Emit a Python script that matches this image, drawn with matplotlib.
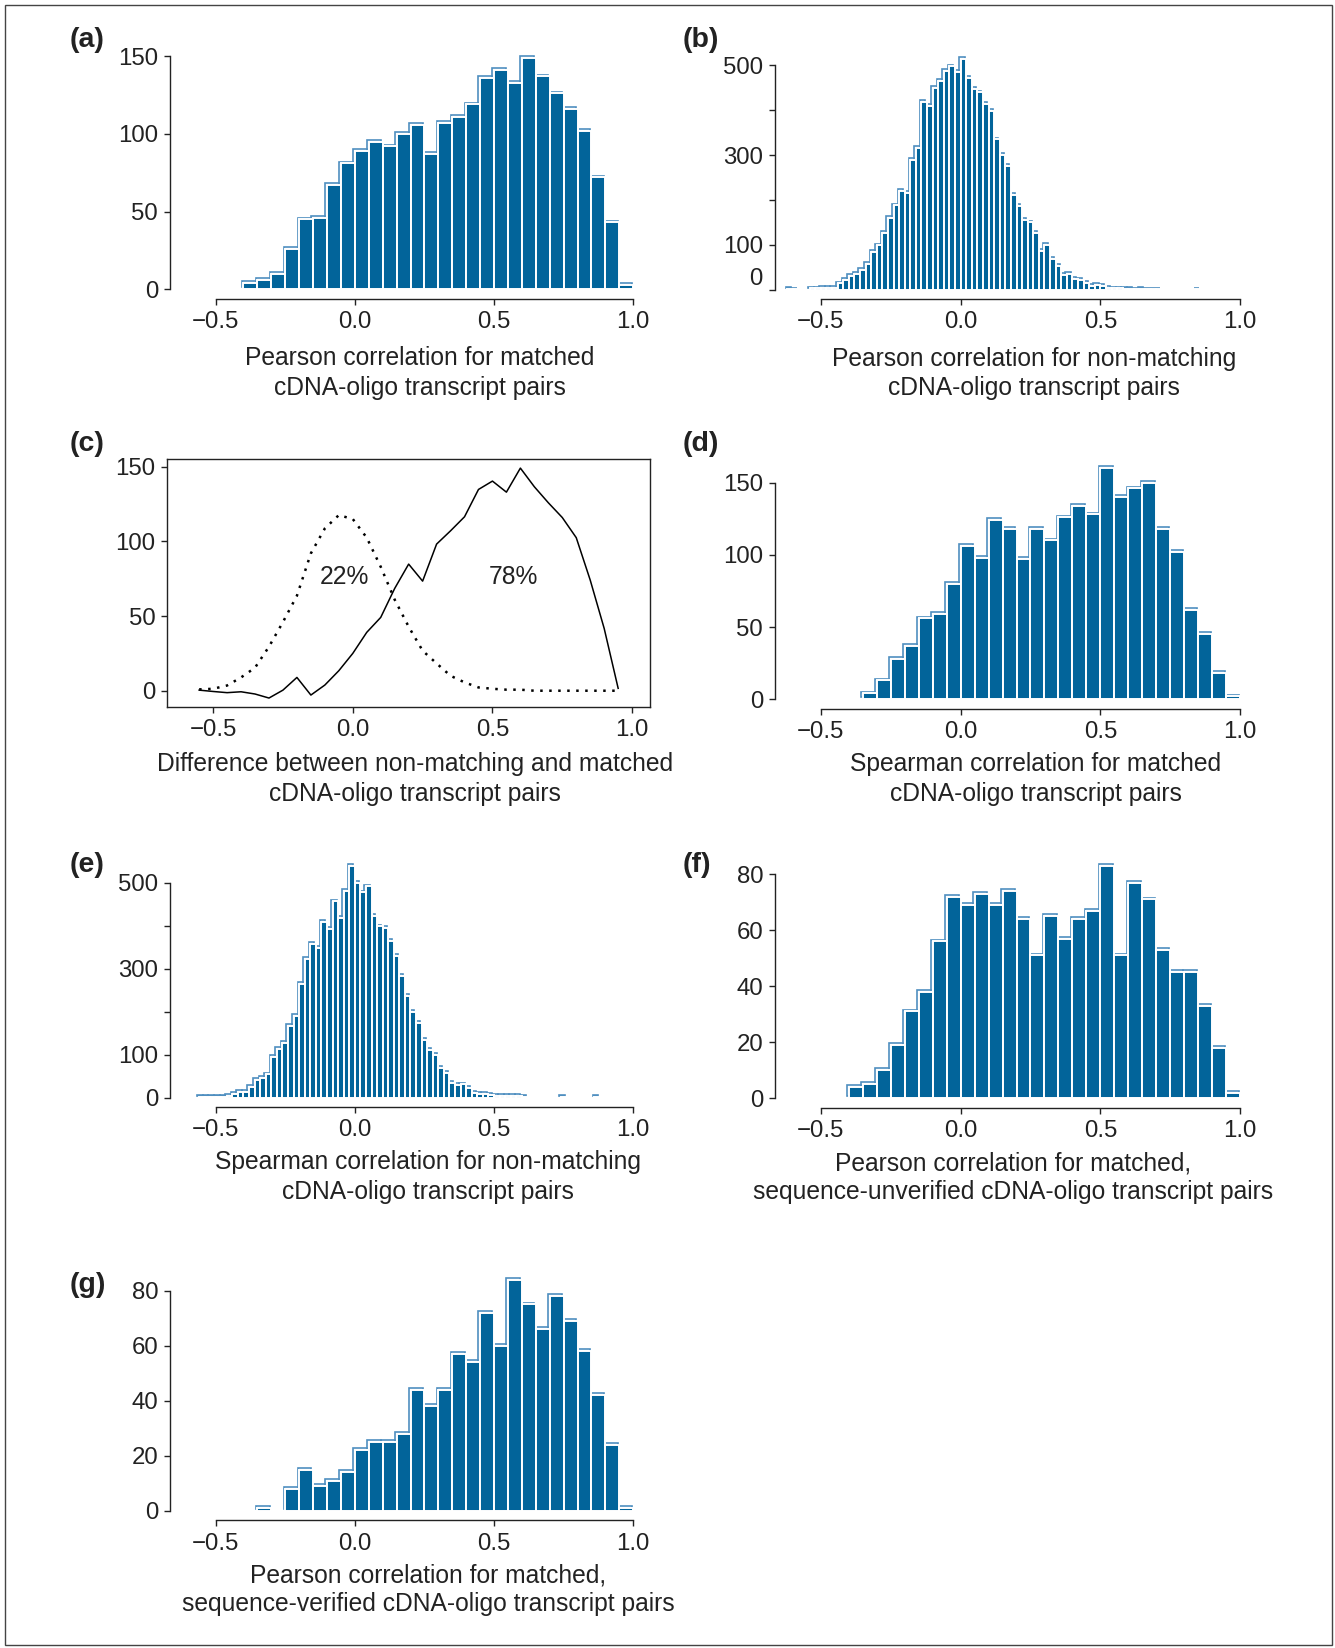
import matplotlib
matplotlib.use('Agg')
import matplotlib.pyplot as plt
from matplotlib.transforms import ScaledTranslation
from matplotlib.patches import Rectangle

plt.rcParams['font.family'] = ['Liberation Sans', 'DejaVu Sans']

# ---------------- data ----------------
# (a) Pearson correlation, matched pairs (bin width 0.05, first bin starts at -0.40)
a_start, a_width = -0.40, 0.05
a_counts = [4, 6, 10, 26, 45, 46, 67, 81, 89, 95, 92, 100, 106, 87, 107, 111,
            119, 136, 141, 133, 149, 137, 126, 116, 102, 72, 43, 3]

# (b) Pearson correlation, non-matching pairs (bin width 0.02, first bin starts at -0.62)
b_start, b_width = -0.62, 0.02
b_counts = [2, 1, 0, 0, 3, 3, 4, 4, 5, 14, 22, 31, 35, 45, 57, 84, 99, 126, 160,
            188, 221, 216, 290, 317, 419, 410, 450, 465, 488, 498, 485, 515, 472,
            448, 440, 414, 398, 335, 301, 277, 212, 187, 156, 150, 126, 86, 100,
            68, 54, 33, 35, 24, 22, 16, 8, 10, 9, 5, 3, 3, 2, 2, 1, 2, 1, 1, 1,
            0, 0, 0, 0, 0, 0, 1]

# (c) difference curves (x every 0.05 from -0.55 to 0.95)
c_x = [-0.55, -0.50, -0.45, -0.40, -0.35, -0.30, -0.25, -0.20, -0.15, -0.10,
       -0.05, 0.00, 0.05, 0.10, 0.15, 0.20, 0.25, 0.30, 0.35, 0.40,
       0.45, 0.50, 0.55, 0.60, 0.65, 0.70, 0.75, 0.80, 0.85, 0.90, 0.95]
c_matched = [0.4, -0.5, -1.3, -0.7, -2.2, -4.9, 0.4, 8.9, -2.9, 3.8,
             13.4, 25, 39.1, 49.1, 68.5, 84.8, 73.4, 98.2, 107.1, 116.5,
             134.8, 140.4, 133, 149.1, 136.6, 125.9, 116, 102.5, 74.1, 41.7, 1.6]
c_nonmatching = [0.9, 1.3, 3.5, 8.9, 15.4, 29.5, 46, 63.6, 92, 108.7,
                 117.6, 115, 102.5, 83, 61, 42.9, 26.8, 18.3, 10, 5.6,
                 2.2, 1.3, 0.7, 0.7, 0, 0, 0, 0, 0, 0, 0]
c_labels = ['22%', '78%']
c_label_x = [-0.03, 0.575]
c_label_y = [76, 76]

# (d) Spearman correlation, matched pairs
d_start, d_width = -0.35, 0.05
d_counts = [4, 13, 28, 37, 56, 59, 80, 106, 98, 124, 118, 97, 118, 110, 126,
            134, 128, 160, 140, 146, 150, 118, 102, 62, 45, 18, 2]

# (e) Spearman correlation, non-matching pairs
e_start, e_width = -0.56, 0.02
e_counts = [1, 1, 1, 1, 1, 5, 8, 14, 14, 26, 41, 46, 54, 95, 114, 128, 167, 191,
            264, 323, 357, 349, 409, 392, 456, 417, 481, 539, 500, 477, 491, 423,
            398, 394, 364, 329, 284, 237, 200, 174, 134, 111, 99, 70, 57, 35, 29,
            31, 22, 12, 8, 8, 6, 5, 5, 4, 5, 4, 2, 0, 0, 0, 0, 0, 0, 1, 0, 0, 0,
            0, 0, 2]

# (f) Pearson, matched, sequence-unverified
f_start, f_width = -0.40, 0.05
f_counts = [4, 5, 10, 19, 31, 38, 56, 72, 69, 73, 69, 74, 64, 51, 65, 57, 64,
            67, 83, 51, 77, 71, 53, 45, 45, 33, 18, 2]

# (g) Pearson, matched, sequence-verified
g_start, g_width = -0.35, 0.05
g_counts = [1, 0, 8, 15, 9, 11, 14, 22, 25, 25, 28, 44, 38, 44, 57, 54, 72, 60,
            84, 75, 66, 78, 69, 58, 42, 24, 1]

x_ticks = [-0.5, 0.0, 0.5, 1.0]
x_ticklabels = ['\u22120.5', '0.0', '0.5', '1.0']

xlabels = {
    'a': ['Pearson correlation for matched', 'cDNA-oligo transcript pairs'],
    'b': ['Pearson correlation for non-matching', 'cDNA-oligo transcript pairs'],
    'c': ['Difference between non-matching and matched', 'cDNA-oligo transcript pairs'],
    'd': ['Spearman correlation for matched', 'cDNA-oligo transcript pairs'],
    'e': ['Spearman correlation for non-matching', 'cDNA-oligo transcript pairs'],
    'f': ['Pearson correlation for matched,', 'sequence-unverified cDNA-oligo transcript pairs'],
    'g': ['Pearson correlation for matched,', 'sequence-verified cDNA-oligo transcript pairs'],
}

# ---------------- layout / style ----------------
W, H = 1335, 1648
DPI = 100
DARK = '#02649a'
LIGHT = '#4f8fc0'
INK = '#222222'
FS = 17.3
XLIM = (-0.664, 1.064)

fig = plt.figure(figsize=(W / DPI, H / DPI), dpi=DPI)
fig.patch.set_facecolor('white')


def add_ax(x0, x1, y0, y1):
    return fig.add_axes([x0 / W, 1 - y1 / H, (x1 - x0) / W, (y1 - y0) / H])


def draw_hist(ax, start, width, counts):
    lefts = [start + i * width for i in range(len(counts))]
    L = [l for l, c in zip(lefts, counts) if c > 0]
    C = [c for c in counts if c > 0]
    off = ax.transData + ScaledTranslation(-1.6 / DPI, 1.8 / DPI, fig.dpi_scale_trans)
    ax.bar(L, C, width=width, align='edge', facecolor='none', edgecolor=LIGHT,
           linewidth=1.2, transform=off, zorder=2)
    ax.bar(L, C, width=width, align='edge', facecolor=DARK, edgecolor='white',
           linewidth=1.4, zorder=3)


def style_axes(ax, ymax, yticks, yticklabels, box=False, ylim=None):
    ax.set_xlim(*XLIM)
    if ylim is None:
        ylim = (-0.04 * ymax, 1.04 * ymax)
    ax.set_ylim(*ylim)
    for s in ax.spines.values():
        s.set_color(INK)
        s.set_linewidth(1.0)
    if not box:
        ax.spines['top'].set_visible(False)
        ax.spines['right'].set_visible(False)
        ax.spines['left'].set_bounds(yticks[0], yticks[-1])
        ax.spines['bottom'].set_bounds(x_ticks[0], x_ticks[-1])
    ax.set_xticks(x_ticks)
    ax.set_xticklabels(x_ticklabels)
    ax.set_yticks(yticks)
    ax.set_yticklabels(yticklabels)
    ax.tick_params(axis='both', direction='out', length=4.5, width=1.0,
                   colors=INK, labelsize=FS, labelcolor=INK)
    ax.tick_params(axis='x', pad=4.5)
    ax.tick_params(axis='y', pad=4)
    ax.patch.set_alpha(0)


def put_xlabel(lines, cx, y1, y2):
    fig.text(cx / W, 1 - y1 / H, lines[0], ha='center', va='center', fontsize=FS + 0.4, color=INK)
    fig.text(cx / W, 1 - y2 / H, lines[1], ha='center', va='center', fontsize=FS + 0.4, color=INK)


def put_tag(tag, x, y):
    fig.text(x / W, 1 - y / H, tag, ha='left', va='center', fontsize=20.5,
             fontweight='bold', color=INK)


LX0, LX1 = 170, 651
RX0, RX1 = 775, 1258

# (a)
ax = add_ax(LX0, LX1, 48.5, 298.5)
draw_hist(ax, a_start, a_width, a_counts)
style_axes(ax, max(a_counts), [0, 50, 100, 150], ['0', '50', '100', '150'])
put_xlabel(xlabels['a'], 420, 358, 387.5)
put_tag('(a)', 70, 40)

# (b)
ax = add_ax(RX0, RX1, 49.5, 299)
draw_hist(ax, b_start, b_width, b_counts)
style_axes(ax, max(b_counts), [0, 100, 200, 300, 400, 500], ['', '100', '', '300', '', '500'])
ax.text(0, 0, '0', transform=ax.get_yaxis_transform() + ScaledTranslation(-12 / DPI, 11 / DPI, fig.dpi_scale_trans),
        ha='right', va='center', fontsize=FS, color=INK)
put_xlabel(xlabels['b'], 1034, 359, 388.5)
put_tag('(b)', 683, 40)

# (c)
ax = add_ax(167.3, 650, 459, 706.7)
ax.plot(c_x, c_matched, color='black', linewidth=1.1, zorder=3)
ax.plot(c_x, c_nonmatching, color='black', linewidth=1.8, linestyle=(0, (1, 2.6)), zorder=3)
for t, tx, ty in zip(c_labels, c_label_x, c_label_y):
    ax.text(tx, ty, t, ha='center', va='center', fontsize=FS + 0.4, color=INK)
style_axes(ax, 150, [0, 50, 100, 150], ['0', '50', '100', '150'], box=True, ylim=(-10.7, 155.2))
put_xlabel(xlabels['c'], 415, 764, 793.5)
put_tag('(c)', 70, 444)

# (d)
ax = add_ax(RX0, RX1, 459, 708.5)
draw_hist(ax, d_start, d_width, d_counts)
style_axes(ax, max(d_counts), [0, 50, 100, 150], ['0', '50', '100', '150'])
put_xlabel(xlabels['d'], 1036, 764, 793.5)
put_tag('(d)', 683, 444)

# (e)
ax = add_ax(LX0, LX1, 856.5, 1107)
draw_hist(ax, e_start, e_width, e_counts)
style_axes(ax, max(e_counts), [0, 100, 200, 300, 400, 500], ['0', '100', '', '300', '', '500'])
put_xlabel(xlabels['e'], 428, 1162, 1191.5)
put_tag('(e)', 70, 864.5)

# (f)
ax = add_ax(RX0, RX1, 856.5, 1107.5)
draw_hist(ax, f_start, f_width, f_counts)
style_axes(ax, max(f_counts), [0, 20, 40, 60, 80], ['0', '20', '40', '60', '80'])
put_xlabel(xlabels['f'], 1013, 1163, 1192.5)
put_tag('(f)', 683, 864.5)

# (g)
ax = add_ax(LX0, LX1, 1270.5, 1520)
draw_hist(ax, g_start, g_width, g_counts)
style_axes(ax, max(g_counts), [0, 20, 40, 60, 80], ['0', '20', '40', '60', '80'])
put_xlabel(xlabels['g'], 428.5, 1575, 1604.5)
put_tag('(g)', 70, 1285.5)

# figure frame
fig.add_artist(Rectangle((5 / W, 3 / H), (W - 8) / W, (H - 8) / H, transform=fig.transFigure,
                         fill=False, edgecolor='#444444', linewidth=1.0))

fig.savefig('out.png', dpi=DPI, facecolor='white')
